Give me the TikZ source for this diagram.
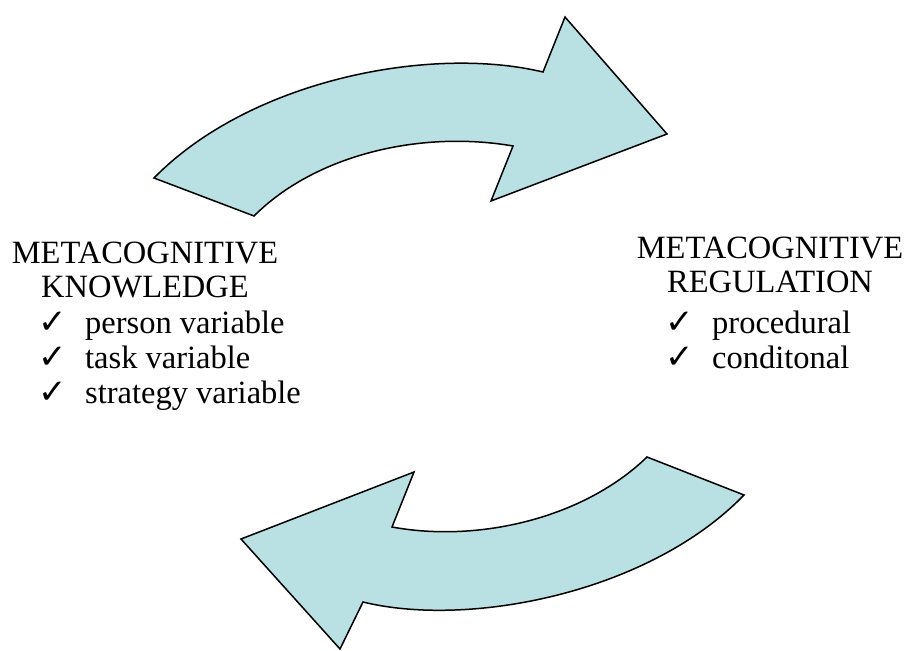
\documentclass[tikz,border=0pt]{standalone}
\usepackage{fontspec}
\setmainfont{Liberation Serif}
\newfontfamily\symfont{DejaVu Sans}
\definecolor{arrowfill}{RGB}{185,224,227}
\begin{document}
\begin{tikzpicture}[x=1pt,y=-1pt,
  bentarrow/.style={fill=arrowfill, draw=black, line width=1.5pt, line join=miter},
  heading/.style={font=\fontsize{32.5}{34}\selectfont, inner sep=0pt, anchor=base},
  item/.style={font=\fontsize{32.5}{34}\selectfont, inner sep=0pt, anchor=base west},
  tick/.style={font=\symfont\fontsize{34}{34}\selectfont, inner sep=0pt, anchor=base west}]
\useasboundingbox (0,0) rectangle (904,650);

% upper curved arrow, pointing right
\draw[bentarrow] (154,178) .. controls (250,80) and (430,45) .. (543,72)
  -- (565,17) -- (667,134) -- (491,201) -- (513,146)
  .. controls (420,130) and (315,155) .. (254,216) -- cycle;

% lower curved arrow, pointing left
\draw[bentarrow] (744,495) .. controls (649,593) and (469,628) .. (363,602)
  -- (340,649) -- (241,539) -- (414,472) -- (392,527)
  .. controls (479,543) and (584,518) .. (647,457) -- cycle;

% knowledge block
\node[heading] (kt1) at (145,263) {METACOGNITIVE};
\node[heading] (kt2) at (145,297) {KNOWLEDGE};
\node[tick] (kc1) at (38,333) {✓};
\node[item] (ki1) at (85,333) {person variable};
\node[tick] (kc2) at (38,368) {✓};
\node[item] (ki2) at (85,368) {task variable};
\node[tick] (kc3) at (38,403) {✓};
\node[item] (ki3) at (85,403) {strategy variable};

% regulation block
\node[heading] (rt1) at (770,258) {METACOGNITIVE};
\node[heading] (rt2) at (770,292) {REGULATION};
\node[tick] (rc1) at (665,333) {✓};
\node[item] (ri1) at (712,333) {procedural};
\node[tick] (rc2) at (665,368) {✓};
\node[item] (ri2) at (712,368) {conditonal};
\end{tikzpicture}
\end{document}
